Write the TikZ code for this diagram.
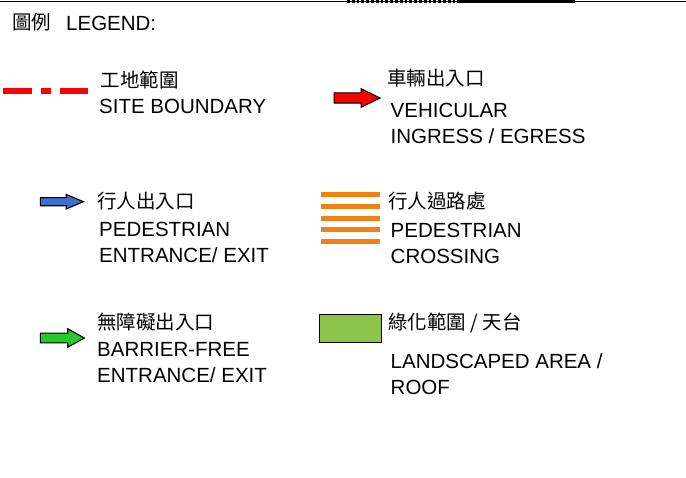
\documentclass[tikz,border=0pt]{standalone}
\usepackage{fontspec}
\setmainfont{Liberation Sans}
\newfontfamily\cjk{Noto Sans CJK TC}
\usetikzlibrary{shapes.arrows}
\definecolor{vehred}{RGB}{255,0,0}
\definecolor{pedblue}{RGB}{61,110,200}
\definecolor{bfgreen}{RGB}{40,200,40}
\definecolor{crossorange}{RGB}{242,128,20}
\definecolor{landgreen}{RGB}{141,195,74}

\begin{document}
\begin{tikzpicture}[x=1pt, y=-1pt,
  cn/.style={anchor=base west, inner sep=0pt, font=\cjk\fontsize{19.5}{24}\selectfont},
  en/.style={anchor=base west, inner sep=0pt, align=left, font=\fontsize{20.5}{26}\selectfont},
  blockarrow/.style={single arrow, draw=black, line width=1.1pt, inner xsep=0pt, anchor=tail}]
\useasboundingbox (0,0) rectangle (686,478);
\draw[line width=1pt] (0,1.5) -- (686,1.5);
\draw[line width=2.8pt, dotted] (347,1.5) -- (460,1.5);
\draw[line width=2.8pt] (460,1.5) -- (575,1.5);

\node[cn] (legcn) at (12,30) {圖例};
\node[en] (legen) at (66,31) {LEGEND:};

% site boundary
\draw[vehred, line width=6pt, dash pattern=on 29pt off 9pt on 10pt off 9.3pt] (2.7,90.7) -- (88.3,90.7);
\node[cn] (sitecn) at (100.5,88) {工地範圍};
\node[en] (siteen) at (99,113.3) {SITE BOUNDARY};

% vehicular
\node[blockarrow, fill=vehred, inner ysep=4.5pt, minimum height=46pt,
  single arrow head extend=4.2pt, single arrow tip angle=52] (veharr) at (333.5,98) {};
\node[cn] (vehcn) at (387,85.5) {車輛出入口};
\node[en] (vehen) at (390.5,143.3) {VEHICULAR\\INGRESS / EGRESS};

% pedestrian
\node[blockarrow, fill=pedblue, inner ysep=3.5pt, minimum height=43pt,
  single arrow head extend=3.2pt, single arrow tip angle=46] (pedarr) at (39.8,201.7) {};
\node[cn] (pedcn) at (97,208.5) {行人出入口};
\node[en] (peden) at (99,262.3) {PEDESTRIAN\\ENTRANCE/ EXIT};

% crossing
\draw[crossorange, line width=5pt] (320.7,195) -- (380,195);
\draw[crossorange, line width=5pt] (320.7,206.7) -- (380,206.7);
\draw[crossorange, line width=5pt] (320.7,218.3) -- (380,218.3);
\draw[crossorange, line width=5pt] (320.7,230) -- (380,230);
\draw[crossorange, line width=5pt] (320.7,241.7) -- (380,241.7);
\node[cn] (crosscn) at (388,208.5) {行人過路處};
\node[en] (crossen) at (390.5,263.3) {PEDESTRIAN\\CROSSING};

% barrier-free
\node[blockarrow, fill=bfgreen, inner ysep=4.35pt, minimum height=44pt,
  single arrow head extend=4.3pt, single arrow tip angle=58] (bfarr) at (39.8,338) {};
\node[cn] (bfcn) at (97,330) {無障礙出入口};
\node[en] (bfen) at (97,382.3) {BARRIER-FREE\\ENTRANCE/ EXIT};

% landscaped
\draw[fill=landgreen, line width=1.4pt] (319.5,314.3) rectangle (381.5,342.5);
\node[cn] (landcn) at (388,330) {綠化範圍 / 天台};
\node[en] (landen) at (390.5,394.3) {LANDSCAPED AREA /\\ROOF};
\end{tikzpicture}
\end{document}
